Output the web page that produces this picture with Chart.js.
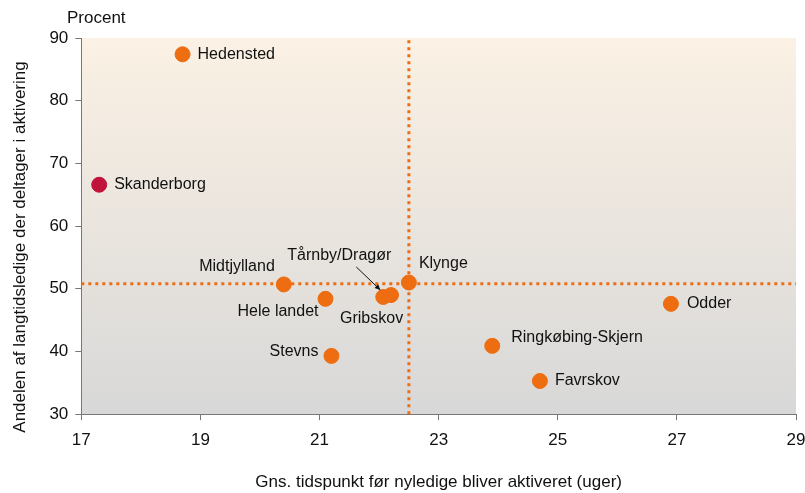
<!DOCTYPE html>
<html>
<head>
<meta charset="utf-8">
<script src="https://cdn.jsdelivr.net/npm/chart.js@4.4.1/dist/chart.umd.min.js"></script>
<style>
  html, body { margin: 0; padding: 0; background: #fff; }
  #wrap { width: 805px; height: 493px; position: relative; }
</style>
</head>
<body>
<div id="wrap"><canvas id="c" width="805" height="493"></canvas></div>
<script>
// data
const kommuner = ['Hedensted', 'Skanderborg', 'Midtjylland', 'Hele landet', 'Tårnby/Dragør', 'Gribskov', 'Klynge', 'Stevns', 'Ringkøbing-Skjern', 'Favrskov', 'Odder'];
const uger = [18.7, 17.3, 20.4, 21.1, 22.07, 22.2, 22.5, 21.2, 23.9, 24.7, 26.9];
const andel = [87.4, 66.6, 50.7, 48.4, 48.7, 49.0, 51.0, 39.3, 40.9, 35.3, 47.6];
const xTicks = [17, 19, 21, 23, 25, 27, 29];
const yTicks = [30, 40, 50, 60, 70, 80, 90];
const refX = 22.5;   // lodret referencelinje
const refY = 50.8;   // vandret referencelinje
const yTitle = 'Andelen af langtidsledige der deltager i aktivering';

// label placement (pixel offsets from the point), kept apart from the data
const labelPos = [
  { dx: 15, dy: 0, align: 'left' },
  { dx: 15, dy: 0, align: 'left' },
  { dx: -9, dy: -18, align: 'right' },
  { dx: -7, dy: 13, align: 'right' },
  { dx: -96, dy: -41, align: 'left' },
  { dx: -51, dy: 24, align: 'left' },
  { dx: 10, dy: -19, align: 'left' },
  { dx: -13, dy: -4, align: 'right' },
  { dx: 19, dy: -8, align: 'left' },
  { dx: 15, dy: 0, align: 'left' },
  { dx: 16, dy: 0, align: 'left' }
];

const orange = '#EE6D10';
const red = '#C0123A';
const pointColors = kommuner.map(k => k === 'Skanderborg' ? red : orange);
const fam = '"Liberation Sans", Arial, sans-serif';

// baggrund med farveovergang i plotområdet
const bgPlugin = {
  id: 'bg',
  beforeDraw(chart) {
    const { ctx, chartArea: a } = chart;
    const g = ctx.createLinearGradient(0, a.top, 0, a.bottom);
    g.addColorStop(0, '#FBF1E4');
    g.addColorStop(1, '#D8D8D8');
    ctx.save();
    ctx.fillStyle = g;
    ctx.fillRect(a.left, a.top, a.right - a.left, a.bottom - a.top);
    ctx.restore();
  }
};

// navne ved punkterne + pil til Tårnby/Dragør
const labelPlugin = {
  id: 'labels',
  afterDatasetsDraw(chart) {
    const { ctx } = chart;
    const meta = chart.getDatasetMeta(2);
    ctx.save();
    ctx.font = '16px ' + fam;
    ctx.fillStyle = '#111';
    ctx.textBaseline = 'middle';
    meta.data.forEach((pt, i) => {
      const p = labelPos[i];
      ctx.textAlign = p.align;
      ctx.fillText(kommuner[i], pt.x + p.dx, pt.y + p.dy);
    });
    // pil
    const t = meta.data[4];
    const x0 = t.x - 27, y0 = t.y - 30, x1 = t.x - 3, y1 = t.y - 7;
    ctx.strokeStyle = '#111';
    ctx.lineWidth = 1;
    ctx.beginPath();
    ctx.moveTo(x0, y0);
    ctx.lineTo(x1, y1);
    ctx.stroke();
    const ang = Math.atan2(y1 - y0, x1 - x0);
    ctx.beginPath();
    ctx.moveTo(x1, y1);
    ctx.lineTo(x1 - 6 * Math.cos(ang - 0.45), y1 - 6 * Math.sin(ang - 0.45));
    ctx.lineTo(x1 - 6 * Math.cos(ang + 0.45), y1 - 6 * Math.sin(ang + 0.45));
    ctx.closePath();
    ctx.fillStyle = '#111';
    ctx.fill();
    // "Procent" over y-aksen
    ctx.textAlign = 'left';
    ctx.font = '17px ' + fam;
    ctx.fillText('Procent', 67, 18);
    // y-aksens titel, lidt under midten som i originalen
    ctx.translate(20, 247);
    ctx.rotate(-Math.PI / 2);
    ctx.textAlign = 'center';
    ctx.fillText(yTitle, 0, 0);
    ctx.restore();
  }
};

const refLine = {
  type: 'line',
  showLine: true,
  borderColor: orange,
  borderWidth: 3,
  borderDash: [3, 4],
  pointRadius: 0,
  fill: false
};

const axisGrid = { display: true, drawOnChartArea: false, drawTicks: true, tickLength: 6, color: '#777' };

new Chart(document.getElementById('c'), {
  type: 'scatter',
  data: {
    datasets: [
      Object.assign({ data: [{ x: refX, y: 30 }, { x: refX, y: 90 }] }, refLine, { clip: false }),
      Object.assign({ data: [{ x: 17, y: refY }, { x: 29, y: refY }] }, refLine),
      {
        data: uger.map((x, i) => ({ x, y: andel[i] })),
        backgroundColor: pointColors,
        borderColor: pointColors,
        pointRadius: 7.5,
        pointHoverRadius: 7.5
      }
    ]
  },
  options: {
    responsive: false,
    animation: false,
    layout: { padding: { top: 38, right: 9, bottom: 0, left: 10 } },
    plugins: { legend: { display: false }, tooltip: { enabled: false } },
    scales: {
      x: {
        min: 17, max: 29,
        afterBuildTicks(s) { s.ticks = xTicks.map(v => ({ value: v })); },
        afterFit(s) { s.paddingRight = 0; },
        grid: axisGrid,
        border: { color: '#777', width: 1 },
        ticks: { color: '#111', font: { size: 17, family: fam }, padding: 10, maxRotation: 0 },
        title: { display: true, text: 'Gns. tidspunkt før nyledige bliver aktiveret (uger)', color: '#111',
          font: { size: 17, family: fam }, padding: { top: 12, bottom: 0 } }
      },
      y: {
        min: 30, max: 90,
        afterBuildTicks(s) { s.ticks = yTicks.map(v => ({ value: v })); },
        grid: axisGrid,
        border: { color: '#777', width: 1 },
        ticks: { color: '#111', font: { size: 17, family: fam }, padding: 7 },
        // keeps the room for the title; the text itself is drawn by the plugin
        title: { display: true, text: yTitle, color: 'rgba(0,0,0,0)',
          font: { size: 17, family: fam }, padding: { top: 0, bottom: 12 } }
      }
    }
  },
  plugins: [bgPlugin, labelPlugin]
});
</script>
</body>
</html>
